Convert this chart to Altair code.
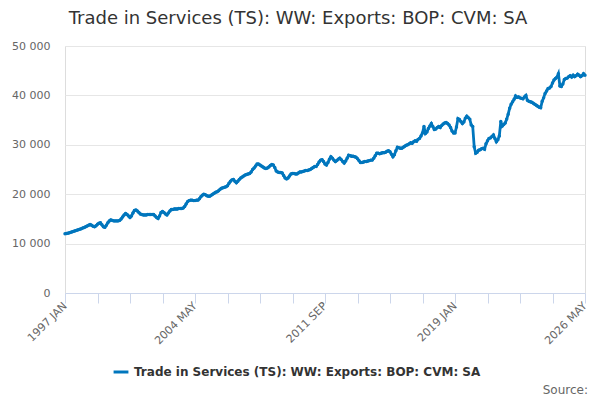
import json

import altair as alt
import pandas as pd

series_name = "Trade in Services (TS): WW: Exports: BOP: CVM: SA"
month_names = ["JAN", "FEB", "MAR", "APR", "MAY", "JUN",
               "JUL", "AUG", "SEP", "OCT", "NOV", "DEC"]
start_year = 1997

# monthly values (one row per year)
values = [
    12000, 12050, 12100, 12200, 12300, 12400, 12500, 12600, 12700, 12800, 12900, 13000,  # 1997
    13150, 13250, 13400, 13550, 13700, 13850, 13700, 13500, 13400, 13600, 13900, 14100,  # 1998
    14200, 13800, 13400, 13300, 13700, 14200, 14600, 14800, 14700, 14600, 14600, 14600,  # 1999
    14600, 14700, 15000, 15400, 15800, 16100, 15900, 15600, 15300, 15600, 16200, 16700,  # 2000
    16800, 16600, 16300, 16000, 15900, 15800, 15800, 15800, 15900, 15900, 15900, 15900,  # 2001
    15900, 15600, 15300, 15100, 15600, 16300, 16500, 16300, 16000, 15800, 16200, 16600,  # 2002
    16900, 16900, 17000, 17000, 17000, 17100, 17100, 17100, 17200, 17500, 18000, 18500,  # 2003
    18700, 18800, 18800, 18700, 18700, 18800, 18800, 19100, 19500, 19800, 20000, 19900,  # 2004
    19700, 19600, 19600, 19800, 20000, 20200, 20400, 20500, 20700, 21000, 21200, 21300,  # 2005
    21400, 21500, 21700, 22200, 22600, 22900, 23000, 22600, 22300, 22600, 23000, 23300,  # 2006
    23500, 23700, 23900, 24000, 24100, 24200, 24500, 25000, 25300, 25700, 26100, 26100,  # 2007
    25900, 25700, 25500, 25300, 25200, 25300, 25500, 25800, 26000, 25900, 25400, 24700,  # 2008
    24500, 24400, 24400, 24300, 23800, 23300, 23100, 23300, 23700, 24100, 24200, 24200,  # 2009
    24100, 24100, 24300, 24500, 24500, 24600, 24700, 24800, 24800, 24900, 25000, 25200,  # 2010
    25400, 25600, 25600, 26000, 26500, 26900, 27000, 26600, 26100, 25900, 26400, 27100,  # 2011
    27600, 27300, 26900, 26600, 26800, 27100, 27300, 27000, 26600, 26300, 26700, 27300,  # 2012
    27900, 27800, 27700, 27700, 27600, 27500, 27200, 26800, 26400, 26400, 26500, 26600,  # 2013
    26600, 26700, 26800, 26900, 26900, 27300, 27800, 28300, 28300, 28200, 28300, 28400,  # 2014
    28400, 28500, 28700, 28800, 28600, 28100, 27600, 28000, 28800, 29500, 29400, 29300,  # 2015
    29300, 29500, 29700, 29900, 30000, 30200, 30400, 30300, 30600, 30800, 30700, 31100,  # 2016
    31300, 31800, 32400, 33700, 32300, 32600, 33300, 33800, 34300, 33700, 33100, 33200,  # 2017
    33500, 33700, 33500, 33900, 34200, 34400, 34500, 34300, 34000, 33500, 32800, 32400,  # 2018
    32400, 33600, 35300, 35100, 34700, 34300, 34600, 35400, 35800, 35500, 35200, 34000,  # 2019
    33700, 29600, 28300, 28500, 28900, 29000, 29200, 29300, 29100, 30200, 30800, 31300,  # 2020
    31400, 31700, 32000, 31300, 30600, 31000, 31800, 34700, 33800, 34100, 34400, 35200,  # 2021
    36200, 37400, 38200, 38700, 39200, 39900, 39600, 39700, 39500, 39400, 39300, 39700,  # 2022
    40000, 39000, 38800, 38700, 38600, 38400, 38200, 38000, 37800, 37600, 37500, 38800,  # 2023
    39500, 40400, 40900, 41400, 41500, 41800, 42500, 43100, 43400, 43700, 44400, 41900,  # 2024
    41800, 42300, 43200, 43400, 43500, 43800, 44000, 43700, 44100, 43800, 44000, 44300,  # 2025
    44100, 43800, 44000, 44400, 44100,                                                    # 2026
]

months = [f"{start_year + i // 12} {month_names[i % 12]}" for i in range(len(values))]
tick_months = months[::22]
label_months = months[::88]
y_ticks = [0, 10000, 20000, 30000, 40000, 50000]

df = pd.DataFrame({"month": months, "value": values, "series": series_name})

FONT = "DejaVu Sans"
BLUE = "#0076BD"

line = (
    alt.Chart(df)
    .mark_line(strokeWidth=2.8, point=alt.OverlayMarkDef(size=12, filled=True))
    .encode(
        x=alt.X(
            "month:O",
            sort=months,
            scale=alt.Scale(type="point", padding=0),
            title=None,
            axis=alt.Axis(
                values=tick_months,
                labelExpr="indexof(" + json.dumps(label_months) + ", datum.value) >= 0 ? datum.value : ''",
                labelAngle=315,
                labelAlign="right",
                labelBaseline="middle",
                labelPadding=1,
                labelFont=FONT,
                labelFontSize=11,
                labelColor="#666666",
                labelOverlap=False,
                domainColor="#ccd6eb",
                tickColor="#ccd6eb",
                tickSize=10,
                grid=False,
            ),
        ),
        y=alt.Y(
            "value:Q",
            scale=alt.Scale(domain=[0, 50000]),
            title=None,
            axis=alt.Axis(
                values=y_ticks,
                labelExpr="replace(format(datum.value, ','), ',', ' ')",
                domain=False,
                ticks=False,
                labelPadding=15,
                labelFont=FONT,
                labelFontSize=11,
                labelColor="#666666",
                gridColor="#e6e6e6",
            ),
        ),
        color=alt.Color(
            "series:N",
            scale=alt.Scale(range=[BLUE]),
            legend=alt.Legend(
                title=None,
                orient="none",
                legendX=47,
                legendY=317,
                direction="horizontal",
                symbolType="stroke",
                symbolStrokeWidth=3,
                symbolSize=220,
                labelFont=FONT,
                labelFontWeight="bold",
                labelFontSize=12,
                labelColor="#333333",
                labelLimit=500,
            ),
        ),
    )
)

title = (
    alt.Chart(pd.DataFrame({"t": [series_name]}))
    .mark_text(align="center", baseline="alphabetic", font=FONT, fontSize=18, color="#333333")
    .encode(text="t:N", x=alt.value(233), y=alt.value(-22))
)

source = (
    alt.Chart(pd.DataFrame({"t": ["Source:"]}))
    .mark_text(align="right", baseline="alphabetic", font=FONT, fontSize=12, color="#666666")
    .encode(text="t:N", x=alt.value(523), y=alt.value(348))
)

chart = (
    alt.layer(line, title, source)
    .properties(
        width=520,
        height=247,
        padding={"left": 57, "top": 38, "right": 7, "bottom": 104},
        autosize=alt.AutoSizeParams(type="none"),
    )
    .configure_view(stroke=None)
    .configure(background="white")
)

chart.save("out.html", embed_options={"renderer": "svg", "actions": False})
